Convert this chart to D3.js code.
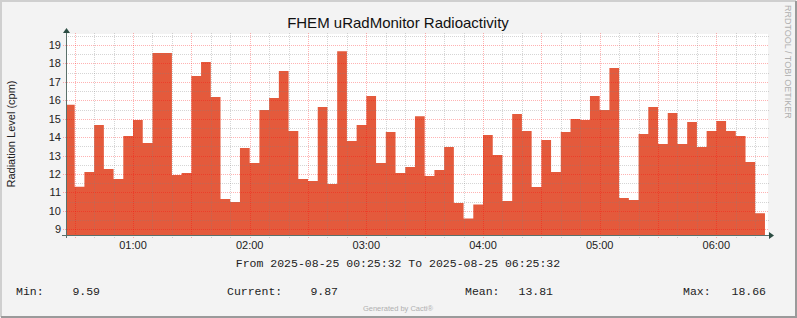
<!DOCTYPE html>
<html><head><meta charset="utf-8">
<script src="https://cdn.jsdelivr.net/npm/d3@7"></script>
<style>body{margin:0;background:#f3f3f3}svg{display:block}</style>
</head><body>
<svg id="c" width="797" height="318"></svg>
<script>
const title = "FHEM uRadMonitor Radioactivity";
const yLabel = "Radiation Level (cpm)";
const sideLabel = "RRDTOOL / TOBI OETIKER";
const rangeStart = "2025-08-25 00:25:32";
const rangeEnd = "2025-08-25 06:25:32";
const intervalStarts = ["00:25","00:30","00:35","00:40","00:45","00:50","00:55","01:00","01:05","01:10","01:15","01:20","01:25","01:30","01:35","01:40","01:45","01:50","01:55","02:00","02:05","02:10","02:15","02:20","02:25","02:30","02:35","02:40","02:45","02:50","02:55","03:00","03:05","03:10","03:15","03:20","03:25","03:30","03:35","03:40","03:45","03:50","03:55","04:00","04:05","04:10","04:15","04:20","04:25","04:30","04:35","04:40","04:45","04:50","04:55","05:00","05:05","05:10","05:15","05:20","05:25","05:30","05:35","05:40","05:45","05:50","05:55","06:00","06:05","06:10","06:15","06:20"];
const values = [15.76,11.31,12.11,14.66,12.27,11.73,14.06,14.93,13.68,18.57,18.57,11.95,12.06,17.32,18.08,16.18,10.65,10.48,13.41,12.60,15.47,16.12,17.59,14.33,11.73,11.62,15.64,11.46,18.66,13.79,14.66,16.23,12.60,14.28,12.06,12.38,15.14,11.89,12.22,13.47,10.43,9.59,10.34,14.12,13.03,10.54,15.26,14.33,11.30,13.85,12.11,14.28,14.99,14.93,16.23,15.47,17.75,10.70,10.59,14.17,15.64,13.63,15.31,13.63,14.82,13.47,14.33,14.88,14.33,14.06,12.65,9.87];
const yTicks = [9,10,11,12,13,14,15,16,17,18,19];
const xTickLabels = ["01:00","02:00","03:00","04:00","05:00","06:00"];
const statNames = ["Min:","Current:","Mean:","Max:"];
const statValues = ["9.59","9.87","13.81","18.66"];
const footer = "Generated by Cacti\u00AE";

const svg = d3.select("#c");
const W = 797, H = 318;
const L = 66, R = 766, T = 34, B = 235;
const parse = d3.utcParse("%Y-%m-%d %H:%M:%S");
const t0 = parse(rangeStart), t1 = parse(rangeEnd);
const day = "2025-08-25 ";
const x = d3.scaleUtc().domain([t0, t1]).range([L, R]);
const y = d3.scaleLinear().domain([8.69, 19.6]).range([B, T]);

// background & border
svg.append("rect").attr("width", W).attr("height", H).attr("fill", "#f3f3f3");
svg.append("path").attr("d", `M1,${H-1}V1H${W-1}`).attr("fill","none").attr("stroke","#cfcfcf").attr("stroke-width",2);
svg.append("path").attr("d", `M1,${H-1}H${W-1}V1`).attr("fill","none").attr("stroke","#9a9a9a").attr("stroke-width",2);
svg.append("rect").attr("x", L).attr("y", T).attr("width", R - L + 2).attr("height", B - T).attr("fill", "#ffffff");

// area
const pts = intervalStarts.map((s, i) => ({t: parse(day + s + ":00"), v: values[i]}));
const endT = d3.utcMinute.offset(pts[pts.length-1].t, 5);
pts.push({t: endT, v: values[values.length-1]});
const area = d3.area().curve(d3.curveStepAfter)
  .x(d => x(d.t < t0 ? t0 : d.t)).y0(B).y1(d => y(d.v));
svg.append("path").datum(pts).attr("d", area).attr("fill", "#e45a3c");

// grid
const minorCol = "rgba(128,128,128,0.33)", majorCol = "rgba(255,0,0,0.3)";
const g = svg.append("g");
const minorY = d3.range(9, 19.6, 0.5).filter(v => v % 1 !== 0);
g.selectAll(".my").data(minorY).join("line")
  .attr("x1", L).attr("x2", R + 3).attr("y1", d => Math.round(y(d)) + 0.5).attr("y2", d => Math.round(y(d)) + 0.5)
  .attr("stroke", minorCol).attr("stroke-dasharray", "1,1");
g.selectAll(".My").data(yTicks).join("line")
  .attr("x1", L - 3).attr("x2", R + 3).attr("y1", d => Math.round(y(d)) + 0.5).attr("y2", d => Math.round(y(d)) + 0.5)
  .attr("stroke", majorCol).attr("stroke-dasharray", "1,1");
const minorX = d3.utcMinute.every(10).range(t0, t1);
const minorOnly = minorX.filter(d => d.getUTCMinutes() % 30 !== 0);
const majorX = minorX.filter(d => d.getUTCMinutes() % 30 === 0);
g.selectAll(".mx").data(minorOnly).join("line")
  .attr("x1", d => Math.round(x(d)) + 0.5).attr("x2", d => Math.round(x(d)) + 0.5).attr("y1", T - 1).attr("y2", B + 3)
  .attr("stroke", minorCol).attr("stroke-dasharray", "1,1");
g.selectAll(".Mx").data(majorX).join("line")
  .attr("x1", d => Math.round(x(d)) + 0.5).attr("x2", d => Math.round(x(d)) + 0.5).attr("y1", T - 1).attr("y2", B + 4)
  .attr("stroke", majorCol).attr("stroke-dasharray", "1,1");

// axes
const axisCol = "#5a706a";
svg.append("line").attr("x1", L - 4).attr("x2", R + 3).attr("y1", B + 0.5).attr("y2", B + 0.5).attr("stroke", axisCol);
svg.append("line").attr("x1", L + 0.5).attr("x2", L + 0.5).attr("y1", T - 1).attr("y2", B + 3).attr("stroke", axisCol);
svg.append("path").attr("d", `M${R+3},${B-3}L${R+8},${B+0.5}L${R+3},${B+4}Z`).attr("fill", "#2c4d43");
svg.append("path").attr("d", `M${L-3},${T-1}L${L+0.5},${T-6}L${L+4},${T-1}Z`).attr("fill", "#2c4d43");

// tick labels
const font = "'Liberation Sans', Arial, sans-serif";
svg.append("g").selectAll("text").data(yTicks).join("text")
  .attr("x", 61).attr("y", d => y(d) + 4).attr("text-anchor", "end")
  .attr("font-family", font).attr("font-size", 11).attr("fill", "#222").text(d => d);
svg.append("g").selectAll("text").data(xTickLabels).join("text")
  .attr("x", d => x(parse(day + d + ":00"))).attr("y", 249).attr("text-anchor", "middle")
  .attr("font-family", font).attr("font-size", 11).attr("fill", "#222").text(d => d);

// titles
svg.append("text").attr("x", 398).attr("y", 28).attr("text-anchor", "middle")
  .attr("font-family", font).attr("font-size", 15).attr("fill", "#111").text(title);
svg.append("text").attr("transform", "translate(15,134) rotate(-90)").attr("text-anchor", "middle")
  .attr("font-family", font).attr("font-size", 11).attr("fill", "#222").text(yLabel);
svg.append("text").attr("transform", "translate(785,5) rotate(90)").attr("text-anchor", "start")
  .attr("font-family", font).attr("font-size", 9).attr("fill", "#b0b0b0").text(sideLabel);

// from/to line
const mono = "'Liberation Mono', 'Courier New', monospace";
svg.append("text").attr("x", 398).attr("y", 267).attr("text-anchor", "middle")
  .attr("font-family", mono).attr("font-size", 11.5).attr("fill", "#222")
  .text(`From ${rangeStart} To ${rangeEnd}`);

// stats
const nameX = [16, 227, 465, 683], valX = [100, 338, 553, 766];
statNames.forEach((n, i) => {
  svg.append("text").attr("x", nameX[i]).attr("y", 295).attr("font-family", mono).attr("font-size", 11.5).attr("fill", "#222").text(n);
  svg.append("text").attr("x", valX[i]).attr("y", 295).attr("text-anchor", "end").attr("font-family", mono).attr("font-size", 11.5).attr("fill", "#222").text(statValues[i]);
});
svg.append("text").attr("x", 398).attr("y", 311).attr("text-anchor", "middle")
  .attr("font-family", font).attr("font-size", 7.5).attr("fill", "#b0b0b0").text(footer);
</script>
</body></html>
